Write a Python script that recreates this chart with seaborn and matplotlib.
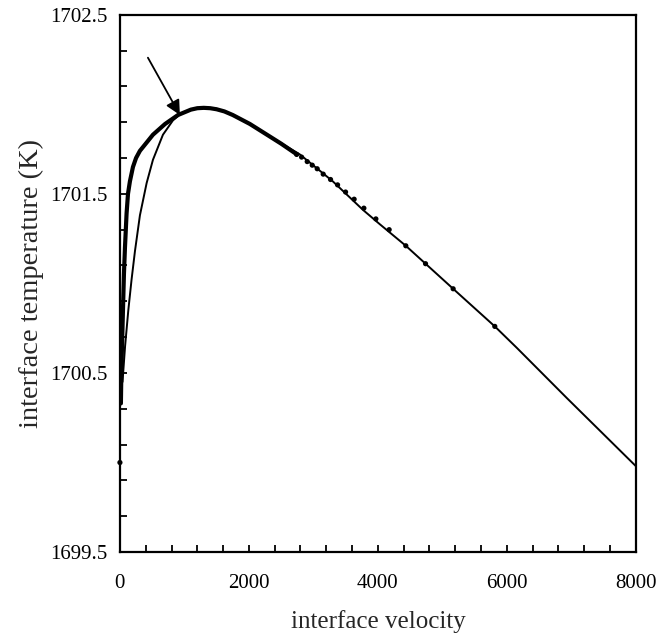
import matplotlib
matplotlib.use("Agg")
import matplotlib.pyplot as plt
import seaborn as sns
import pandas as pd
import numpy as np

# ---- data ----
# dense simulation points (drawn as a thick band where dots overlap)
dense_v = [15, 22, 30, 47, 62, 78, 103, 125, 155, 202, 250, 310, 400, 512, 700,
           900, 1000, 1100, 1200, 1300, 1400, 1500, 1620, 1750, 2015, 2280, 2500, 2744]
dense_T = [1700.33, 1700.50, 1700.62, 1700.85, 1701.05, 1701.20, 1701.39, 1701.50,
           1701.57, 1701.65, 1701.70, 1701.74, 1701.78, 1701.83, 1701.89, 1701.94,
           1701.955, 1701.97, 1701.978, 1701.98, 1701.978, 1701.972, 1701.96, 1701.94,
           1701.89, 1701.83, 1701.78, 1701.72]
# sparse simulation dots
dot_v = [0, 2740, 2817, 2904, 2982, 3059, 3152, 3266, 3375, 3499, 3632, 3783,
         3969, 4175, 4433, 4739, 5167, 5813]
dot_T = [1700.00, 1701.72, 1701.705, 1701.68, 1701.66, 1701.64, 1701.61, 1701.58,
         1701.55, 1701.51, 1701.47, 1701.42, 1701.36, 1701.30, 1701.21, 1701.11,
         1700.97, 1700.76]
# model curve (thin line)
model_v = [40, 80, 130, 180, 233, 310, 414, 512, 667, 822, 950, 1100, 1300, 1500,
           1750, 2015, 2280, 2790, 3300, 3770, 4031, 4433, 5167, 5813, 6155, 6930, 8000]
model_T = [1700.45, 1700.65, 1700.85, 1701.02, 1701.18, 1701.38, 1701.56, 1701.69,
           1701.83, 1701.91, 1701.95, 1701.97, 1701.98, 1701.975, 1701.94, 1701.89,
           1701.83, 1701.72, 1701.57, 1701.41, 1701.33, 1701.21, 1700.97, 1700.76,
           1700.64, 1700.36, 1699.98]

x_ticks = list(range(0, 8001, 400))
x_labels = ["0" if v == 0 else (str(v) if v % 2000 == 0 else "") for v in x_ticks]
y_ticks = [1699.5, 1699.7, 1699.9, 1700.1, 1700.3, 1700.5, 1700.7, 1700.9, 1701.1,
           1701.3, 1701.5, 1701.7, 1701.9, 1702.1, 1702.3, 1702.5]
y_labels = ["1699.5", "", "", "", "", "1700.5", "", "", "", "", "1701.5", "", "", "", "", "1702.5"]

sns.set_theme(style="ticks")
plt.rcParams["font.family"] = ["Liberation Serif", "DejaVu Serif"]

fig = plt.figure(figsize=(6.7, 6.39), dpi=100)
ax = fig.add_axes([0.179, 0.136, 0.770, 0.841])

df_dense = pd.DataFrame({"v": dense_v, "T": dense_T})
df_dot = pd.DataFrame({"v": dot_v, "T": dot_T})
df_model = pd.DataFrame({"v": model_v, "T": model_T})

sns.lineplot(data=df_model, x="v", y="T", ax=ax, color="black", lw=1.4, sort=False)
sns.lineplot(data=df_dense, x="v", y="T", ax=ax, color="black", lw=3.0, sort=False,
             solid_joinstyle="round", solid_capstyle="round")
sns.scatterplot(data=df_dot, x="v", y="T", ax=ax, color="black", s=14, edgecolor="none", clip_on=False)

ax.annotate("", xy=(930, 1701.94), xytext=(434, 1702.26),
            arrowprops=dict(arrowstyle="-|>", color="black", lw=1.3, mutation_scale=22,
                            shrinkA=0, shrinkB=0))

ax.set_xlim(0, 8000)
ax.set_ylim(1699.5, 1702.5)
ax.set_xticks(x_ticks)
ax.set_xticklabels(x_labels)
ax.set_yticks(y_ticks)
ax.set_yticklabels(y_labels)
ax.tick_params(direction="in", length=5, width=1.3, labelsize=15, colors="black")
ax.tick_params(axis="x", pad=16)
ax.tick_params(axis="y", pad=9)
for s in ax.spines.values():
    s.set_linewidth(1.6)
    s.set_color("black")
    s.set_visible(True)

ax.set_xlabel("interface velocity", fontsize=18, labelpad=12)
ax.set_ylabel("interface temperature (K)", fontsize=20.5, labelpad=4)

fig.savefig("out.png", dpi=100, facecolor="white")
